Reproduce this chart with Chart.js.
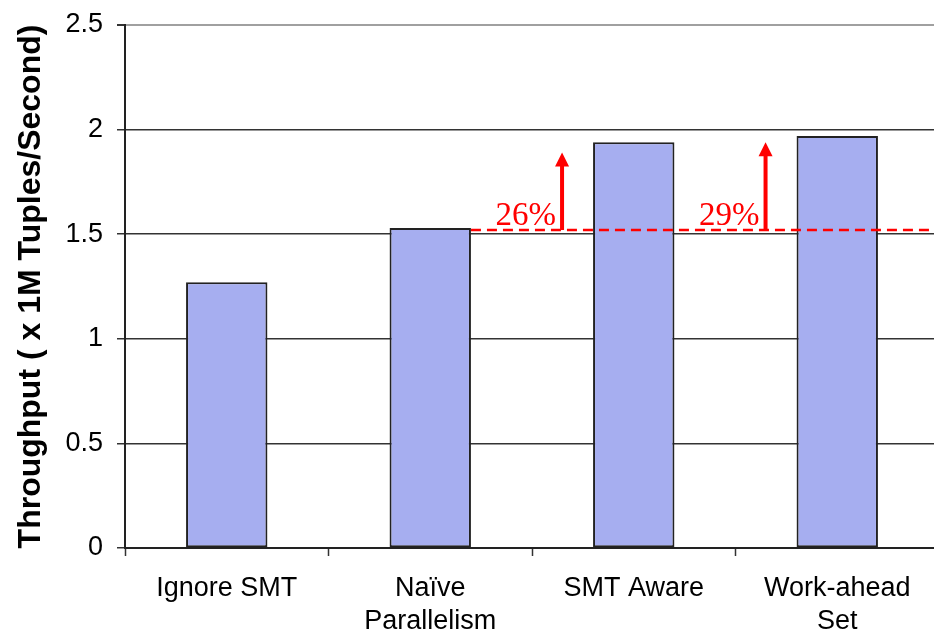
<!DOCTYPE html>
<html>
<head>
<meta charset="utf-8">
<script src="https://cdn.jsdelivr.net/npm/chart.js@4"></script>
<style>
    html, body { margin: 0; padding: 0; background: #fff; overflow: hidden; }
    #wrap { width: 934px; height: 635px; overflow: hidden; }
</style>
</head>
<body>
<div id="wrap">
    <canvas id="throughputChart" width="945" height="635"></canvas>
</div>
<script>
    // throughput per scheduling strategy (x 1M tuples/second)
    const strategies = ['Ignore SMT', ['Naïve', 'Parallelism'], 'SMT Aware', ['Work-ahead', 'Set']];
    const throughput = [1.27, 1.53, 1.94, 1.97];
    const yTicks = [0, 0.5, 1, 1.5, 2, 2.5];

    // speedup markers over the naive version
    const baseLevel = 1.52;
    const gainLabels = ['26%', '29%'];
    const gainBars = [2, 3];
    const arrowTips = [1.89, 1.94];

    //draws the dashed baseline, arrows and % labels
    const gainMarkers = {
        id: 'gainMarkers',
        afterDatasetsDraw: function (chart) {
            const ctx = chart.ctx;
            const y = chart.scales.y;
            const bars = chart.getDatasetMeta(0).data;
            const baseY = y.getPixelForValue(baseLevel);
            const naive = bars[1];

            ctx.save();
            ctx.strokeStyle = '#ff0000';
            ctx.lineWidth = 2.5;
            ctx.setLineDash([10, 6]);
            ctx.beginPath();
            ctx.moveTo(naive.x + naive.width / 2, baseY);
            ctx.lineTo(chart.width, baseY);
            ctx.stroke();
            ctx.setLineDash([]);

            gainBars.forEach(function (b, i) {
                const bar = bars[b];
                const ax = bar.x - bar.width / 2 - 31;
                const tipY = y.getPixelForValue(arrowTips[i]);
                const head = 14;

                ctx.fillStyle = '#ff0000';
                ctx.fillRect(ax - 2, tipY + head - 1, 4, baseY - tipY - head + 1);
                ctx.beginPath();
                ctx.moveTo(ax, tipY);
                ctx.lineTo(ax - 7, tipY + head);
                ctx.lineTo(ax + 7, tipY + head);
                ctx.closePath();
                ctx.fill();

                ctx.font = '33px "Liberation Serif", "DejaVu Serif", serif';
                ctx.textAlign = 'right';
                ctx.textBaseline = 'alphabetic';
                ctx.fillText(gainLabels[i], ax - 6, baseY - 5);
            });
            ctx.restore();
        }
    };

    const ctx = document.getElementById('throughputChart').getContext('2d');
    const throughputChart = new Chart(ctx, {
        type: 'bar',
        data: {
            labels: strategies,
            datasets: [{
                data: throughput,
                backgroundColor: '#a6aef0',
                borderColor: '#222222',
                borderWidth: 2,
                borderSkipped: false,
                categoryPercentage: 1,
                barPercentage: 0.4
            }]
        },
        options: {
            responsive: false,
            animation: false,
            layout: { padding: { top: 25, right: 6, left: 0, bottom: 0 } },
            plugins: {
                legend: { display: false },
                tooltip: { enabled: false }
            },
            scales: {
                x: {
                    afterFit: function (scale) { scale.height = 87; },
                    grid: {
                        drawOnChartArea: false,
                        tickLength: 8,
                        tickColor: '#333',
                        tickWidth: 1.5
                    },
                    border: { color: '#222', width: 2 },
                    ticks: {
                        color: '#000',
                        padding: 16,
                        maxRotation: 0,
                        font: { family: '"Liberation Sans", Arial, sans-serif', size: 27, lineHeight: 1.22 }
                    }
                },
                y: {
                    min: 0,
                    max: 2.5,
                    afterFit: function (scale) {
                        scale.width = 125;
                        scale.paddingTop = 0;
                        scale.paddingBottom = 0;
                    },
                    afterBuildTicks: function (scale) {
                        scale.ticks = yTicks.map(function (v) { return { value: v }; });
                    },
                    grid: {
                        color: function (c) { return c.tick && c.tick.value === 2.5 ? '#a0a0a0' : '#333'; },
                        lineWidth: function (c) { return c.tick && c.tick.value === 2.5 ? 2 : 1.5; },
                        tickLength: 8,
                        tickColor: '#333'
                    },
                    border: { color: '#222', width: 2 },
                    ticks: {
                        color: '#000',
                        padding: 14,
                        callback: function (v) { return String(v); },
                        font: { family: '"Liberation Sans", Arial, sans-serif', size: 27 }
                    },
                    title: {
                        display: true,
                        text: 'Throughput ( x 1M Tuples/Second)',
                        color: '#000',
                        padding: { top: 12, bottom: 0 },
                        font: { family: '"Liberation Sans", Arial, sans-serif', size: 32, weight: 'bold' }
                    }
                }
            }
        },
        plugins: [gainMarkers]
    });
</script>
</body>
</html>
